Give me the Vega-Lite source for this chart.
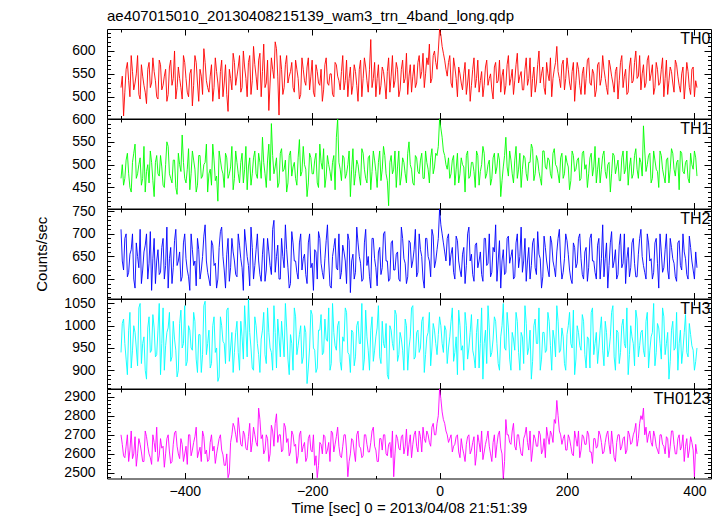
{
"$schema":"https://vega.github.io/schema/vega-lite/v6.json",
"autosize":{"type":"pad"},
"padding":{"left":33,"top":9,"right":9,"bottom":0},
"background":"white",
"title":{"text":"ae407015010_20130408215139_wam3_trn_4band_long.qdp","anchor":"start","frame":"group","fontSize":15,"fontWeight":"normal","font":"Liberation Sans","color":"black","baseline":"alphabetic","offset":-11},
"config":{"font":"Liberation Sans","view":{"stroke":"black","strokeWidth":1},
"axis":{"domain":false,"grid":false,"labelFontSize":14,"labelColor":"black","tickColor":"black","tickWidth":1,"labelOverlap":false,"labelFlush":false,"titleFontWeight":"normal","titleFontSize":15,"titleColor":"black","labelFont":"Liberation Sans","titleFont":"Liberation Sans"}},
"spacing":0,
"bounds":"flush",
"resolve":{"scale":{"x":"independent","y":"independent"}},
"data":{"values":[
{"t":-500,"th0":520,"th1":470,"th2":710,"th3":940,"sum":2700},
{"t":-496,"th0":458,"th1":455,"th2":620,"th3":1015,"sum":2590},
{"t":-492,"th0":560,"th1":510,"th2":700,"th3":925,"sum":2640},
{"t":-488,"th0":535,"th1":480,"th2":615,"th3":990,"sum":2560},
{"t":-484,"th0":590,"th1":440,"th2":665,"th3":905,"sum":2720},
{"t":-480,"th0":515,"th1":525,"th2":600,"th3":1000,"sum":2600},
{"t":-476,"th0":550,"th1":470,"th2":680,"th3":950,"sum":2535},
{"t":-472,"th0":505,"th1":500,"th2":625,"th3":1040,"sum":2680},
{"t":-468,"th0":570,"th1":455,"th2":590,"th3":915,"sum":2610},
{"t":-464,"th0":525,"th1":540,"th2":660,"th3":975,"sum":2560},
{"t":-460,"th0":485,"th1":485,"th2":700,"th3":880,"sum":2690},
{"t":-456,"th0":575,"th1":460,"th2":635,"th3":1020,"sum":2600},
{"t":-452,"th0":530,"th1":505,"th2":575,"th3":945,"sum":2545},
{"t":-448,"th0":555,"th1":430,"th2":690,"th3":995,"sum":2660},
{"t":-444,"th0":500,"th1":520,"th2":640,"th3":935,"sum":2740},
{"t":-440,"th0":580,"th1":475,"th2":610,"th3":1050,"sum":2590},
{"t":-436,"th0":515,"th1":495,"th2":670,"th3":960,"sum":2630},
{"t":-432,"th0":545,"th1":450,"th2":600,"th3":900,"sum":2530},
{"t":-428,"th0":490,"th1":550,"th2":715,"th3":985,"sum":2680},
{"t":-424,"th0":565,"th1":480,"th2":645,"th3":1030,"sum":2610},
{"t":-420,"th0":525,"th1":460,"th2":590,"th3":930,"sum":2560},
{"t":-416,"th0":600,"th1":510,"th2":685,"th3":970,"sum":2710},
{"t":-412,"th0":520,"th1":435,"th2":630,"th3":885,"sum":2640},
{"t":-408,"th0":540,"th1":500,"th2":660,"th3":1005,"sum":2575},
{"t":-404,"th0":495,"th1":565,"th2":605,"th3":950,"sum":2650},
{"t":-400,"th0":575,"th1":470,"th2":700,"th3":1045,"sum":2600},
{"t":-396,"th0":510,"th1":490,"th2":620,"th3":920,"sum":2545},
{"t":-392,"th0":550,"th1":445,"th2":575,"th3":990,"sum":2700},
{"t":-388,"th0":480,"th1":530,"th2":665,"th3":945,"sum":2620},
{"t":-384,"th0":590,"th1":490,"th2":640,"th3":1010,"sum":2690},
{"t":-380,"th0":530,"th1":455,"th2":690,"th3":895,"sum":2580},
{"t":-376,"th0":560,"th1":520,"th2":600,"th3":980,"sum":2635},
{"t":-372,"th0":505,"th1":475,"th2":650,"th3":935,"sum":2720},
{"t":-368,"th0":575,"th1":505,"th2":720,"th3":1055,"sum":2600},
{"t":-364,"th0":520,"th1":440,"th2":615,"th3":960,"sum":2560},
{"t":-360,"th0":545,"th1":490,"th2":585,"th3":905,"sum":2660},
{"t":-356,"th0":490,"th1":545,"th2":675,"th3":1000,"sum":2615},
{"t":-352,"th0":585,"th1":465,"th2":635,"th3":940,"sum":2550},
{"t":-348,"th0":530,"th1":420,"th2":600,"th3":875,"sum":2640},
{"t":-344,"th0":555,"th1":510,"th2":705,"th3":1020,"sum":2700},
{"t":-340,"th0":500,"th1":480,"th2":650,"th3":965,"sum":2595},
{"t":-336,"th0":570,"th1":525,"th2":580,"th3":915,"sum":2540},
{"t":-332,"th0":468,"th1":470,"th2":690,"th3":1040,"sum":2475},
{"t":-328,"th0":540,"th1":495,"th2":625,"th3":950,"sum":2660},
{"t":-324,"th0":595,"th1":445,"th2":660,"th3":895,"sum":2760},
{"t":-320,"th0":525,"th1":530,"th2":610,"th3":985,"sum":2700},
{"t":-316,"th0":565,"th1":480,"th2":700,"th3":940,"sum":2790},
{"t":-312,"th0":510,"th1":505,"th2":645,"th3":1010,"sum":2650},
{"t":-308,"th0":600,"th1":460,"th2":575,"th3":925,"sum":2720},
{"t":-304,"th0":540,"th1":540,"th2":680,"th3":990,"sum":2630},
{"t":-300,"th0":575,"th1":495,"th2":630,"th3":1060,"sum":2690},
{"t":-296,"th0":505,"th1":455,"th2":715,"th3":950,"sum":2610},
{"t":-292,"th0":610,"th1":515,"th2":600,"th3":900,"sum":2740},
{"t":-288,"th0":545,"th1":480,"th2":665,"th3":1000,"sum":2660},
{"t":-284,"th0":580,"th1":525,"th2":640,"th3":935,"sum":2840},
{"t":-280,"th0":500,"th1":470,"th2":595,"th3":970,"sum":2680},
{"t":-276,"th0":615,"th1":505,"th2":690,"th3":1030,"sum":2600},
{"t":-272,"th0":530,"th1":450,"th2":620,"th3":915,"sum":2700},
{"t":-268,"th0":470,"th1":545,"th2":660,"th3":985,"sum":2560},
{"t":-264,"th0":585,"th1":590,"th2":610,"th3":940,"sum":2750},
{"t":-260,"th0":540,"th1":480,"th2":730,"th3":1045,"sum":2640},
{"t":-256,"th0":605,"th1":515,"th2":650,"th3":905,"sum":2810},
{"t":-252,"th0":460,"th1":460,"th2":600,"th3":975,"sum":2700},
{"t":-248,"th0":560,"th1":535,"th2":690,"th3":1010,"sum":2610},
{"t":-244,"th0":520,"th1":490,"th2":625,"th3":930,"sum":2760},
{"t":-240,"th0":590,"th1":440,"th2":665,"th3":995,"sum":2660},
{"t":-236,"th0":545,"th1":520,"th2":580,"th3":890,"sum":2590},
{"t":-232,"th0":575,"th1":475,"th2":705,"th3":960,"sum":2720},
{"t":-228,"th0":510,"th1":505,"th2":640,"th3":1040,"sum":2640},
{"t":-224,"th0":560,"th1":455,"th2":615,"th3":935,"sum":2550},
{"t":-220,"th0":495,"th1":555,"th2":680,"th3":980,"sum":2700},
{"t":-216,"th0":585,"th1":485,"th2":620,"th3":915,"sum":2610},
{"t":-212,"th0":535,"th1":500,"th2":655,"th3":1000,"sum":2660},
{"t":-208,"th0":565,"th1":430,"th2":590,"th3":870,"sum":2580},
{"t":-204,"th0":515,"th1":525,"th2":700,"th3":950,"sum":2700},
{"t":-200,"th0":580,"th1":480,"th2":635,"th3":1025,"sum":2610},
{"t":-196,"th0":500,"th1":510,"th2":665,"th3":945,"sum":2540},
{"t":-192,"th0":555,"th1":460,"th2":600,"th3":905,"sum":2475},
{"t":-188,"th0":525,"th1":545,"th2":690,"th3":990,"sum":2660},
{"t":-184,"th0":490,"th1":490,"th2":615,"th3":935,"sum":2600},
{"t":-180,"th0":570,"th1":450,"th2":645,"th3":1015,"sum":2690},
{"t":-176,"th0":530,"th1":520,"th2":720,"th3":965,"sum":2620},
{"t":-172,"th0":550,"th1":485,"th2":585,"th3":900,"sum":2560},
{"t":-168,"th0":505,"th1":505,"th2":650,"th3":1050,"sum":2710},
{"t":-164,"th0":575,"th1":445,"th2":690,"th3":955,"sum":2650},
{"t":-160,"th0":545,"th1":600,"th2":620,"th3":1000,"sum":2740},
{"t":-156,"th0":515,"th1":490,"th2":600,"th3":920,"sum":2590},
{"t":-152,"th0":590,"th1":520,"th2":675,"th3":975,"sum":2640},
{"t":-148,"th0":535,"th1":470,"th2":640,"th3":1040,"sum":2700},
{"t":-144,"th0":500,"th1":500,"th2":700,"th3":940,"sum":2480},
{"t":-140,"th0":565,"th1":430,"th2":570,"th3":895,"sum":2600},
{"t":-136,"th0":525,"th1":535,"th2":655,"th3":985,"sum":2670},
{"t":-132,"th0":555,"th1":480,"th2":615,"th3":930,"sum":2560},
{"t":-128,"th0":490,"th1":500,"th2":680,"th3":1010,"sum":2720},
{"t":-124,"th0":580,"th1":455,"th2":635,"th3":960,"sum":2630},
{"t":-120,"th0":540,"th1":525,"th2":600,"th3":900,"sum":2590},
{"t":-116,"th0":565,"th1":470,"th2":710,"th3":1035,"sum":2700},
{"t":-112,"th0":510,"th1":515,"th2":650,"th3":945,"sum":2610},
{"t":-108,"th0":625,"th1":445,"th2":580,"th3":990,"sum":2660},
{"t":-104,"th0":540,"th1":530,"th2":690,"th3":920,"sum":2740},
{"t":-100,"th0":500,"th1":485,"th2":625,"th3":975,"sum":2620},
{"t":-96,"th0":570,"th1":505,"th2":660,"th3":1045,"sum":2560},
{"t":-92,"th0":525,"th1":465,"th2":610,"th3":915,"sum":2680},
{"t":-88,"th0":555,"th1":540,"th2":700,"th3":960,"sum":2700},
{"t":-84,"th0":495,"th1":480,"th2":640,"th3":1005,"sum":2600},
{"t":-80,"th0":585,"th1":410,"th2":595,"th3":880,"sum":2650},
{"t":-76,"th0":545,"th1":520,"th2":680,"th3":990,"sum":2580},
{"t":-72,"th0":520,"th1":490,"th2":620,"th3":945,"sum":2480},
{"t":-68,"th0":575,"th1":450,"th2":655,"th3":1025,"sum":2700},
{"t":-64,"th0":500,"th1":530,"th2":600,"th3":935,"sum":2630},
{"t":-60,"th0":560,"th1":475,"th2":715,"th3":970,"sum":2690},
{"t":-56,"th0":530,"th1":505,"th2":645,"th3":900,"sum":2600},
{"t":-52,"th0":595,"th1":460,"th2":590,"th3":1000,"sum":2730},
{"t":-48,"th0":545,"th1":550,"th2":685,"th3":950,"sum":2650},
{"t":-44,"th0":510,"th1":490,"th2":625,"th3":1040,"sum":2580},
{"t":-40,"th0":570,"th1":455,"th2":665,"th3":925,"sum":2700},
{"t":-36,"th0":530,"th1":515,"th2":605,"th3":985,"sum":2640},
{"t":-32,"th0":590,"th1":480,"th2":700,"th3":940,"sum":2720},
{"t":-28,"th0":555,"th1":525,"th2":650,"th3":1010,"sum":2610},
{"t":-24,"th0":520,"th1":470,"th2":580,"th3":895,"sum":2680},
{"t":-20,"th0":585,"th1":505,"th2":690,"th3":975,"sum":2720},
{"t":-16,"th0":615,"th1":460,"th2":640,"th3":1030,"sum":2660},
{"t":-12,"th0":540,"th1":535,"th2":710,"th3":950,"sum":2740},
{"t":-8,"th0":600,"th1":495,"th2":625,"th3":990,"sum":2700},
{"t":-4,"th0":560,"th1":520,"th2":665,"th3":935,"sum":2760},
{"t":0,"th0":648,"th1":600,"th2":755,"th3":1020,"sum":2940},
{"t":4,"th0":610,"th1":560,"th2":700,"th3":960,"sum":2820},
{"t":8,"th0":580,"th1":520,"th2":660,"th3":1000,"sum":2760},
{"t":12,"th0":545,"th1":490,"th2":690,"th3":915,"sum":2700},
{"t":16,"th0":590,"th1":470,"th2":630,"th3":975,"sum":2680},
{"t":20,"th0":520,"th1":510,"th2":670,"th3":1040,"sum":2610},
{"t":24,"th0":565,"th1":455,"th2":600,"th3":940,"sum":2650},
{"t":28,"th0":500,"th1":525,"th2":685,"th3":890,"sum":2700},
{"t":32,"th0":550,"th1":480,"th2":620,"th3":1000,"sum":2580},
{"t":36,"th0":515,"th1":500,"th2":655,"th3":955,"sum":2630},
{"t":40,"th0":575,"th1":440,"th2":590,"th3":1030,"sum":2560},
{"t":44,"th0":530,"th1":530,"th2":700,"th3":925,"sum":2690},
{"t":48,"th0":490,"th1":475,"th2":640,"th3":985,"sum":2600},
{"t":52,"th0":560,"th1":505,"th2":610,"th3":945,"sum":2660},
{"t":56,"th0":520,"th1":450,"th2":675,"th3":905,"sum":2540},
{"t":60,"th0":580,"th1":520,"th2":625,"th3":1015,"sum":2700},
{"t":64,"th0":535,"th1":485,"th2":660,"th3":960,"sum":2610},
{"t":68,"th0":500,"th1":540,"th2":595,"th3":880,"sum":2570},
{"t":72,"th0":565,"th1":470,"th2":690,"th3":990,"sum":2650},
{"t":76,"th0":525,"th1":500,"th2":635,"th3":1045,"sum":2720},
{"t":80,"th0":550,"th1":455,"th2":605,"th3":930,"sum":2600},
{"t":84,"th0":495,"th1":515,"th2":670,"th3":970,"sum":2660},
{"t":88,"th0":575,"th1":480,"th2":720,"th3":1010,"sum":2580},
{"t":92,"th0":535,"th1":525,"th2":640,"th3":915,"sum":2700},
{"t":96,"th0":510,"th1":430,"th2":580,"th3":975,"sum":2630},
{"t":100,"th0":560,"th1":495,"th2":665,"th3":1050,"sum":2470},
{"t":104,"th0":525,"th1":560,"th2":615,"th3":945,"sum":2780},
{"t":108,"th0":590,"th1":475,"th2":695,"th3":995,"sum":2700},
{"t":112,"th0":540,"th1":510,"th2":650,"th3":900,"sum":2650},
{"t":116,"th0":505,"th1":460,"th2":600,"th3":970,"sum":2760},
{"t":120,"th0":570,"th1":540,"th2":680,"th3":1030,"sum":2620},
{"t":124,"th0":530,"th1":490,"th2":625,"th3":940,"sum":2700},
{"t":128,"th0":555,"th1":450,"th2":715,"th3":985,"sum":2600},
{"t":132,"th0":515,"th1":520,"th2":640,"th3":915,"sum":2680},
{"t":136,"th0":585,"th1":480,"th2":595,"th3":1005,"sum":2740},
{"t":140,"th0":540,"th1":505,"th2":670,"th3":950,"sum":2620},
{"t":144,"th0":500,"th1":545,"th2":630,"th3":880,"sum":2560},
{"t":148,"th0":565,"th1":465,"th2":690,"th3":1000,"sum":2700},
{"t":152,"th0":530,"th1":520,"th2":610,"th3":960,"sum":2640},
{"t":156,"th0":600,"th1":485,"th2":655,"th3":1040,"sum":2720},
{"t":160,"th0":550,"th1":455,"th2":580,"th3":925,"sum":2600},
{"t":164,"th0":520,"th1":530,"th2":695,"th3":985,"sum":2680},
{"t":168,"th0":575,"th1":490,"th2":640,"th3":945,"sum":2740},
{"t":172,"th0":535,"th1":510,"th2":605,"th3":1010,"sum":2650},
{"t":176,"th0":500,"th1":470,"th2":680,"th3":900,"sum":2700},
{"t":180,"th0":560,"th1":535,"th2":625,"th3":970,"sum":2780},
{"t":184,"th0":610,"th1":495,"th2":660,"th3":1045,"sum":2880},
{"t":188,"th0":540,"th1":460,"th2":710,"th3":940,"sum":2720},
{"t":192,"th0":570,"th1":525,"th2":600,"th3":995,"sum":2650},
{"t":196,"th0":515,"th1":480,"th2":645,"th3":915,"sum":2700},
{"t":200,"th0":585,"th1":505,"th2":685,"th3":980,"sum":2620},
{"t":204,"th0":530,"th1":445,"th2":620,"th3":1030,"sum":2680},
{"t":208,"th0":555,"th1":530,"th2":590,"th3":950,"sum":2600},
{"t":212,"th0":490,"th1":485,"th2":670,"th3":890,"sum":2720},
{"t":216,"th0":575,"th1":510,"th2":635,"th3":1000,"sum":2640},
{"t":220,"th0":525,"th1":465,"th2":700,"th3":955,"sum":2580},
{"t":224,"th0":550,"th1":525,"th2":610,"th3":1025,"sum":2700},
{"t":228,"th0":505,"th1":490,"th2":660,"th3":935,"sum":2650},
{"t":232,"th0":580,"th1":450,"th2":595,"th3":975,"sum":2720},
{"t":236,"th0":530,"th1":515,"th2":690,"th3":905,"sum":2610},
{"t":240,"th0":560,"th1":475,"th2":640,"th3":1040,"sum":2550},
{"t":244,"th0":500,"th1":540,"th2":615,"th3":960,"sum":2680},
{"t":248,"th0":570,"th1":490,"th2":675,"th3":915,"sum":2640},
{"t":252,"th0":525,"th1":460,"th2":600,"th3":990,"sum":2700},
{"t":256,"th0":590,"th1":520,"th2":720,"th3":945,"sum":2600},
{"t":260,"th0":540,"th1":485,"th2":645,"th3":1010,"sum":2660},
{"t":264,"th0":505,"th1":500,"th2":580,"th3":930,"sum":2720},
{"t":268,"th0":565,"th1":440,"th2":680,"th3":975,"sum":2600},
{"t":272,"th0":530,"th1":525,"th2":625,"th3":1045,"sum":2650},
{"t":276,"th0":555,"th1":480,"th2":665,"th3":900,"sum":2560},
{"t":280,"th0":495,"th1":510,"th2":610,"th3":985,"sum":2700},
{"t":284,"th0":575,"th1":465,"th2":700,"th3":940,"sum":2620},
{"t":288,"th0":520,"th1":530,"th2":635,"th3":1015,"sum":2680},
{"t":292,"th0":560,"th1":490,"th2":590,"th3":950,"sum":2600},
{"t":296,"th0":510,"th1":455,"th2":670,"th3":890,"sum":2720},
{"t":300,"th0":585,"th1":515,"th2":625,"th3":1000,"sum":2650},
{"t":304,"th0":535,"th1":480,"th2":690,"th3":960,"sum":2700},
{"t":308,"th0":600,"th1":535,"th2":605,"th3":1035,"sum":2760},
{"t":312,"th0":545,"th1":470,"th2":655,"th3":930,"sum":2680},
{"t":316,"th0":515,"th1":505,"th2":710,"th3":985,"sum":2800},
{"t":320,"th0":570,"th1":585,"th2":630,"th3":945,"sum":2840},
{"t":324,"th0":530,"th1":485,"th2":600,"th3":1010,"sum":2740},
{"t":328,"th0":590,"th1":520,"th2":680,"th3":905,"sum":2700},
{"t":332,"th0":550,"th1":460,"th2":645,"th3":975,"sum":2660},
{"t":336,"th0":505,"th1":530,"th2":615,"th3":1050,"sum":2720},
{"t":340,"th0":575,"th1":490,"th2":690,"th3":940,"sum":2640},
{"t":344,"th0":525,"th1":450,"th2":580,"th3":995,"sum":2600},
{"t":348,"th0":560,"th1":520,"th2":660,"th3":925,"sum":2700},
{"t":352,"th0":500,"th1":475,"th2":625,"th3":1020,"sum":2640},
{"t":356,"th0":580,"th1":510,"th2":700,"th3":960,"sum":2690},
{"t":360,"th0":535,"th1":460,"th2":600,"th3":880,"sum":2580},
{"t":364,"th0":555,"th1":535,"th2":670,"th3":990,"sum":2720},
{"t":368,"th0":510,"th1":490,"th2":635,"th3":945,"sum":2650},
{"t":372,"th0":570,"th1":505,"th2":595,"th3":1030,"sum":2600},
{"t":376,"th0":525,"th1":445,"th2":685,"th3":960,"sum":2700},
{"t":380,"th0":550,"th1":525,"th2":620,"th3":915,"sum":2640},
{"t":384,"th0":495,"th1":480,"th2":660,"th3":985,"sum":2560},
{"t":388,"th0":575,"th1":510,"th2":610,"th3":940,"sum":2680},
{"t":392,"th0":520,"th1":460,"th2":695,"th3":1005,"sum":2620},
{"t":396,"th0":560,"th1":500,"th2":640,"th3":955,"sum":2660},
{"t":400,"th0":500,"th1":530,"th2":600,"th3":900,"sum":2480},
{"t":404,"th0":520,"th1":475,"th2":625,"th3":950,"sum":2600},
{"t":-498,"th0":545,"th1":500,"th2":640,"th3":1005,"sum":2650},
{"t":-494,"th0":510,"th1":470,"th2":690,"th3":960,"sum":2580},
{"t":-490,"th0":575,"th1":525,"th2":605,"th3":890,"sum":2700},
{"t":-486,"th0":500,"th1":450,"th2":655,"th3":1030,"sum":2620},
{"t":-482,"th0":555,"th1":505,"th2":700,"th3":945,"sum":2575},
{"t":-478,"th0":530,"th1":545,"th2":580,"th3":985,"sum":2690},
{"t":-474,"th0":590,"th1":480,"th2":650,"th3":910,"sum":2600},
{"t":-470,"th0":495,"th1":515,"th2":710,"th3":1050,"sum":2650},
{"t":-466,"th0":545,"th1":470,"th2":620,"th3":960,"sum":2560},
{"t":-462,"th0":510,"th1":440,"th2":675,"th3":900,"sum":2720},
{"t":-458,"th0":560,"th1":500,"th2":600,"th3":995,"sum":2640},
{"t":-454,"th0":520,"th1":530,"th2":705,"th3":940,"sum":2580},
{"t":-450,"th0":585,"th1":465,"th2":645,"th3":1025,"sum":2700},
{"t":-446,"th0":535,"th1":505,"th2":590,"th3":930,"sum":2610},
{"t":-442,"th0":495,"th1":480,"th2":665,"th3":990,"sum":2560},
{"t":-438,"th0":570,"th1":520,"th2":615,"th3":890,"sum":2680},
{"t":-434,"th0":525,"th1":455,"th2":690,"th3":1040,"sum":2640},
{"t":-430,"th0":560,"th1":500,"th2":630,"th3":955,"sum":2600},
{"t":-426,"th0":505,"th1":540,"th2":580,"th3":995,"sum":2700},
{"t":-422,"th0":580,"th1":470,"th2":670,"th3":920,"sum":2550},
{"t":-418,"th0":540,"th1":510,"th2":625,"th3":1010,"sum":2650},
{"t":-414,"th0":495,"th1":450,"th2":710,"th3":945,"sum":2720},
{"t":-410,"th0":565,"th1":525,"th2":640,"th3":900,"sum":2600},
{"t":-406,"th0":520,"th1":485,"th2":595,"th3":1035,"sum":2680},
{"t":-402,"th0":590,"th1":505,"th2":680,"th3":960,"sum":2560},
{"t":-398,"th0":540,"th1":460,"th2":645,"th3":910,"sum":2640},
{"t":-394,"th0":500,"th1":535,"th2":605,"th3":1000,"sum":2700},
{"t":-390,"th0":560,"th1":480,"th2":700,"th3":950,"sum":2590},
{"t":-386,"th0":525,"th1":510,"th2":630,"th3":1030,"sum":2660},
{"t":-382,"th0":575,"th1":440,"th2":585,"th3":925,"sum":2740},
{"t":-378,"th0":490,"th1":520,"th2":665,"th3":980,"sum":2610},
{"t":-374,"th0":545,"th1":470,"th2":620,"th3":895,"sum":2560},
{"t":-370,"th0":605,"th1":500,"th2":695,"th3":1045,"sum":2690},
{"t":-366,"th0":535,"th1":545,"th2":640,"th3":935,"sum":2620},
{"t":-362,"th0":510,"th1":480,"th2":600,"th3":990,"sum":2570},
{"t":-358,"th0":570,"th1":455,"th2":685,"th3":915,"sum":2700},
{"t":-354,"th0":520,"th1":510,"th2":630,"th3":1020,"sum":2640},
{"t":-350,"th0":555,"th1":475,"th2":580,"th3":950,"sum":2600},
{"t":-346,"th0":495,"th1":530,"th2":670,"th3":885,"sum":2680},
{"t":-342,"th0":580,"th1":490,"th2":715,"th3":1000,"sum":2620},
{"t":-338,"th0":530,"th1":450,"th2":620,"th3":960,"sum":2540},
{"t":-334,"th0":505,"th1":515,"th2":655,"th3":1035,"sum":2600},
{"t":-330,"th0":560,"th1":480,"th2":595,"th3":920,"sum":2500},
{"t":-326,"th0":515,"th1":540,"th2":690,"th3":985,"sum":2700},
{"t":-322,"th0":575,"th1":470,"th2":640,"th3":940,"sum":2740},
{"t":-318,"th0":545,"th1":505,"th2":605,"th3":1010,"sum":2660},
{"t":-314,"th0":590,"th1":460,"th2":675,"th3":900,"sum":2720},
{"t":-310,"th0":520,"th1":525,"th2":625,"th3":975,"sum":2640},
{"t":-306,"th0":565,"th1":490,"th2":710,"th3":1045,"sum":2700},
{"t":-302,"th0":500,"th1":445,"th2":650,"th3":930,"sum":2620},
{"t":-298,"th0":590,"th1":515,"th2":585,"th3":985,"sum":2760},
{"t":-294,"th0":535,"th1":480,"th2":670,"th3":905,"sum":2660},
{"t":-290,"th0":570,"th1":530,"th2":630,"th3":1020,"sum":2700},
{"t":-286,"th0":515,"th1":470,"th2":700,"th3":960,"sum":2640},
{"t":-282,"th0":595,"th1":505,"th2":610,"th3":895,"sum":2780},
{"t":-278,"th0":555,"th1":560,"th2":655,"th3":990,"sum":2700},
{"t":-274,"th0":520,"th1":480,"th2":595,"th3":935,"sum":2620},
{"t":-270,"th0":580,"th1":510,"th2":690,"th3":1040,"sum":2680},
{"t":-266,"th0":530,"th1":465,"th2":630,"th3":950,"sum":2600},
{"t":-262,"th0":560,"th1":520,"th2":710,"th3":900,"sum":2720},
{"t":-258,"th0":620,"th1":495,"th2":615,"th3":985,"sum":2760},
{"t":-254,"th0":545,"th1":450,"th2":675,"th3":1015,"sum":2660},
{"t":-250,"th0":590,"th1":525,"th2":600,"th3":930,"sum":2700},
{"t":-246,"th0":505,"th1":485,"th2":650,"th3":970,"sum":2620},
{"t":-242,"th0":570,"th1":510,"th2":720,"th3":1050,"sum":2740},
{"t":-238,"th0":530,"th1":460,"th2":625,"th3":925,"sum":2680},
{"t":-234,"th0":555,"th1":530,"th2":590,"th3":980,"sum":2610},
{"t":-230,"th0":520,"th1":495,"th2":680,"th3":900,"sum":2700},
{"t":-226,"th0":580,"th1":470,"th2":640,"th3":1020,"sum":2650},
{"t":-222,"th0":540,"th1":515,"th2":600,"th3":955,"sum":2590},
{"t":-218,"th0":505,"th1":475,"th2":700,"th3":1000,"sum":2720},
{"t":-214,"th0":560,"th1":540,"th2":645,"th3":930,"sum":2640},
{"t":-210,"th0":525,"th1":490,"th2":610,"th3":985,"sum":2560},
{"t":-206,"th0":585,"th1":460,"th2":680,"th3":905,"sum":2680},
{"t":-202,"th0":545,"th1":515,"th2":625,"th3":1035,"sum":2620},
{"t":-198,"th0":510,"th1":480,"th2":575,"th3":950,"sum":2700},
{"t":-194,"th0":570,"th1":525,"th2":660,"th3":895,"sum":2590},
{"t":-190,"th0":530,"th1":450,"th2":705,"th3":990,"sum":2540},
{"t":-186,"th0":560,"th1":505,"th2":635,"th3":1025,"sum":2650},
{"t":-182,"th0":515,"th1":535,"th2":600,"th3":940,"sum":2700},
{"t":-178,"th0":585,"th1":475,"th2":685,"th3":970,"sum":2600},
{"t":-174,"th0":525,"th1":500,"th2":640,"th3":1040,"sum":2660},
{"t":-170,"th0":550,"th1":465,"th2":580,"th3":915,"sum":2720},
{"t":-166,"th0":500,"th1":520,"th2":670,"th3":985,"sum":2610},
{"t":-162,"th0":570,"th1":560,"th2":625,"th3":945,"sum":2690},
{"t":-158,"th0":535,"th1":505,"th2":700,"th3":1010,"sum":2640},
{"t":-154,"th0":555,"th1":465,"th2":615,"th3":900,"sum":2580},
{"t":-150,"th0":515,"th1":515,"th2":660,"th3":965,"sum":2700},
{"t":-146,"th0":580,"th1":480,"th2":590,"th3":1030,"sum":2620},
{"t":-142,"th0":540,"th1":530,"th2":685,"th3":935,"sum":2560},
{"t":-138,"th0":505,"th1":490,"th2":640,"th3":990,"sum":2680},
{"t":-134,"th0":570,"th1":455,"th2":600,"th3":910,"sum":2610},
{"t":-130,"th0":525,"th1":510,"th2":715,"th3":1000,"sum":2700},
{"t":-126,"th0":560,"th1":475,"th2":650,"th3":960,"sum":2640},
{"t":-122,"th0":500,"th1":535,"th2":595,"th3":1050,"sum":2580},
{"t":-118,"th0":585,"th1":490,"th2":680,"th3":925,"sum":2700},
{"t":-114,"th0":535,"th1":460,"th2":630,"th3":975,"sum":2650},
{"t":-110,"th0":560,"th1":520,"th2":605,"th3":900,"sum":2610},
{"t":-106,"th0":520,"th1":485,"th2":690,"th3":1020,"sum":2720},
{"t":-102,"th0":575,"th1":510,"th2":645,"th3":945,"sum":2640},
{"t":-98,"th0":540,"th1":450,"th2":585,"th3":995,"sum":2560},
{"t":-94,"th0":505,"th1":530,"th2":670,"th3":930,"sum":2680},
{"t":-90,"th0":565,"th1":490,"th2":625,"th3":1010,"sum":2620},
{"t":-86,"th0":530,"th1":520,"th2":705,"th3":950,"sum":2700},
{"t":-82,"th0":555,"th1":465,"th2":640,"th3":890,"sum":2590},
{"t":-78,"th0":510,"th1":505,"th2":600,"th3":1000,"sum":2660},
{"t":-74,"th0":590,"th1":480,"th2":685,"th3":960,"sum":2720},
{"t":-70,"th0":535,"th1":530,"th2":620,"th3":1035,"sum":2600},
{"t":-66,"th0":560,"th1":495,"th2":660,"th3":920,"sum":2680},
{"t":-62,"th0":515,"th1":455,"th2":595,"th3":985,"sum":2620},
{"t":-58,"th0":580,"th1":515,"th2":690,"th3":945,"sum":2700},
{"t":-54,"th0":540,"th1":480,"th2":635,"th3":1015,"sum":2640},
{"t":-50,"th0":505,"th1":525,"th2":605,"th3":900,"sum":2590},
{"t":-46,"th0":570,"th1":500,"th2":680,"th3":975,"sum":2700},
{"t":-42,"th0":545,"th1":460,"th2":640,"th3":1045,"sum":2650},
{"t":-38,"th0":520,"th1":520,"th2":710,"th3":930,"sum":2720},
{"t":-34,"th0":575,"th1":485,"th2":615,"th3":990,"sum":2610},
{"t":-30,"th0":540,"th1":510,"th2":665,"th3":950,"sum":2690},
{"t":-26,"th0":595,"th1":470,"th2":600,"th3":1020,"sum":2740},
{"t":-22,"th0":550,"th1":530,"th2":690,"th3":935,"sum":2660},
{"t":-18,"th0":570,"th1":490,"th2":650,"th3":985,"sum":2700},
{"t":-14,"th0":530,"th1":515,"th2":605,"th3":910,"sum":2640},
{"t":-10,"th0":590,"th1":480,"th2":695,"th3":1005,"sum":2760},
{"t":-6,"th0":575,"th1":525,"th2":640,"th3":960,"sum":2700},
{"t":-2,"th0":600,"th1":540,"th2":690,"th3":980,"sum":2800},
{"t":2,"th0":635,"th1":580,"th2":720,"th3":1000,"sum":2890},
{"t":6,"th0":595,"th1":530,"th2":680,"th3":940,"sum":2780},
{"t":10,"th0":560,"th1":500,"th2":640,"th3":990,"sum":2720},
{"t":14,"th0":575,"th1":515,"th2":700,"th3":950,"sum":2660},
{"t":18,"th0":530,"th1":480,"th2":655,"th3":1010,"sum":2700},
{"t":22,"th0":585,"th1":520,"th2":615,"th3":920,"sum":2640},
{"t":26,"th0":540,"th1":490,"th2":695,"th3":975,"sum":2690},
{"t":30,"th0":565,"th1":460,"th2":640,"th3":1035,"sum":2610},
{"t":34,"th0":530,"th1":515,"th2":605,"th3":945,"sum":2680},
{"t":38,"th0":550,"th1":495,"th2":670,"th3":900,"sum":2600},
{"t":42,"th0":505,"th1":520,"th2":630,"th3":1000,"sum":2650},
{"t":46,"th0":560,"th1":470,"th2":715,"th3":950,"sum":2700},
{"t":50,"th0":525,"th1":505,"th2":655,"th3":1025,"sum":2620},
{"t":54,"th0":585,"th1":485,"th2":595,"th3":930,"sum":2690},
{"t":58,"th0":540,"th1":530,"th2":680,"th3":985,"sum":2600},
{"t":62,"th0":510,"th1":455,"th2":640,"th3":905,"sum":2660},
{"t":66,"th0":555,"th1":500,"th2":610,"th3":1040,"sum":2720},
{"t":70,"th0":525,"th1":525,"th2":690,"th3":960,"sum":2610},
{"t":74,"th0":580,"th1":480,"th2":630,"th3":915,"sum":2680},
{"t":78,"th0":540,"th1":510,"th2":700,"th3":995,"sum":2640},
{"t":82,"th0":515,"th1":470,"th2":615,"th3":940,"sum":2560},
{"t":86,"th0":565,"th1":525,"th2":660,"th3":1020,"sum":2700},
{"t":90,"th0":530,"th1":495,"th2":595,"th3":960,"sum":2650},
{"t":94,"th0":580,"th1":510,"th2":685,"th3":900,"sum":2720},
{"t":98,"th0":545,"th1":465,"th2":640,"th3":1000,"sum":2600},
{"t":102,"th0":505,"th1":520,"th2":610,"th3":950,"sum":2560},
{"t":106,"th0":570,"th1":495,"th2":690,"th3":1030,"sum":2700},
{"t":110,"th0":525,"th1":530,"th2":635,"th3":925,"sum":2660},
{"t":114,"th0":560,"th1":480,"th2":665,"th3":985,"sum":2720},
{"t":118,"th0":535,"th1":510,"th2":605,"th3":945,"sum":2640},
{"t":122,"th0":595,"th1":470,"th2":700,"th3":1010,"sum":2700},
{"t":126,"th0":545,"th1":525,"th2":650,"th3":900,"sum":2640},
{"t":130,"th0":515,"th1":490,"th2":615,"th3":975,"sum":2590},
{"t":134,"th0":560,"th1":515,"th2":690,"th3":1045,"sum":2700},
{"t":138,"th0":525,"th1":465,"th2":640,"th3":935,"sum":2660},
{"t":142,"th0":585,"th1":505,"th2":600,"th3":990,"sum":2720},
{"t":146,"th0":540,"th1":535,"th2":680,"th3":920,"sum":2620},
{"t":150,"th0":510,"th1":480,"th2":625,"th3":1015,"sum":2680},
{"t":154,"th0":570,"th1":510,"th2":705,"th3":960,"sum":2640},
{"t":158,"th0":530,"th1":470,"th2":645,"th3":900,"sum":2700},
{"t":162,"th0":565,"th1":530,"th2":605,"th3":985,"sum":2620},
{"t":166,"th0":505,"th1":495,"th2":670,"th3":940,"sum":2580},
{"t":170,"th0":550,"th1":515,"th2":620,"th3":1030,"sum":2690},
{"t":174,"th0":585,"th1":480,"th2":695,"th3":955,"sum":2720},
{"t":178,"th0":540,"th1":525,"th2":640,"th3":990,"sum":2660},
{"t":182,"th0":575,"th1":500,"th2":605,"th3":930,"sum":2760},
{"t":186,"th0":555,"th1":480,"th2":690,"th3":1010,"sum":2800},
{"t":190,"th0":520,"th1":515,"th2":640,"th3":945,"sum":2700},
{"t":194,"th0":580,"th1":470,"th2":615,"th3":975,"sum":2680},
{"t":198,"th0":540,"th1":520,"th2":700,"th3":900,"sum":2620},
{"t":202,"th0":560,"th1":495,"th2":655,"th3":1000,"sum":2700},
{"t":206,"th0":515,"th1":465,"th2":600,"th3":960,"sum":2640},
{"t":210,"th0":575,"th1":520,"th2":680,"th3":1035,"sum":2590},
{"t":214,"th0":535,"th1":490,"th2":625,"th3":925,"sum":2680},
{"t":218,"th0":560,"th1":515,"th2":690,"th3":985,"sum":2720},
{"t":222,"th0":505,"th1":470,"th2":645,"th3":945,"sum":2620},
{"t":226,"th0":565,"th1":530,"th2":600,"th3":1010,"sum":2690},
{"t":230,"th0":540,"th1":500,"th2":670,"th3":905,"sum":2650},
{"t":234,"th0":585,"th1":480,"th2":625,"th3":970,"sum":2700},
{"t":238,"th0":525,"th1":525,"th2":700,"th3":1030,"sum":2610},
{"t":242,"th0":550,"th1":495,"th2":640,"th3":935,"sum":2680},
{"t":246,"th0":515,"th1":460,"th2":600,"th3":985,"sum":2630},
{"t":250,"th0":575,"th1":515,"th2":690,"th3":950,"sum":2720},
{"t":254,"th0":540,"th1":490,"th2":645,"th3":1020,"sum":2660},
{"t":258,"th0":560,"th1":530,"th2":605,"th3":910,"sum":2610},
{"t":262,"th0":520,"th1":470,"th2":680,"th3":985,"sum":2700},
{"t":266,"th0":580,"th1":505,"th2":630,"th3":945,"sum":2650},
{"t":270,"th0":545,"th1":480,"th2":705,"th3":1030,"sum":2720},
{"t":274,"th0":510,"th1":520,"th2":640,"th3":930,"sum":2580},
{"t":278,"th0":565,"th1":495,"th2":600,"th3":990,"sum":2660},
{"t":282,"th0":535,"th1":465,"th2":675,"th3":915,"sum":2700},
{"t":286,"th0":590,"th1":515,"th2":625,"th3":1000,"sum":2640},
{"t":290,"th0":545,"th1":480,"th2":700,"th3":960,"sum":2690},
{"t":294,"th0":505,"th1":530,"th2":645,"th3":1040,"sum":2620},
{"t":298,"th0":565,"th1":495,"th2":605,"th3":935,"sum":2700},
{"t":302,"th0":530,"th1":470,"th2":680,"th3":975,"sum":2660},
{"t":306,"th0":575,"th1":520,"th2":635,"th3":910,"sum":2720},
{"t":310,"th0":540,"th1":490,"th2":605,"th3":1015,"sum":2640},
{"t":314,"th0":590,"th1":515,"th2":690,"th3":955,"sum":2760},
{"t":318,"th0":550,"th1":475,"th2":650,"th3":990,"sum":2780},
{"t":322,"th0":520,"th1":530,"th2":615,"th3":930,"sum":2700},
{"t":326,"th0":580,"th1":500,"th2":700,"th3":1030,"sum":2660},
{"t":330,"th0":535,"th1":525,"th2":640,"th3":945,"sum":2720},
{"t":334,"th0":570,"th1":470,"th2":600,"th3":985,"sum":2640},
{"t":338,"th0":520,"th1":510,"th2":680,"th3":910,"sum":2690},
{"t":342,"th0":560,"th1":485,"th2":635,"th3":1005,"sum":2620},
{"t":346,"th0":530,"th1":530,"th2":700,"th3":960,"sum":2700},
{"t":350,"th0":585,"th1":490,"th2":615,"th3":1040,"sum":2650},
{"t":354,"th0":540,"th1":460,"th2":665,"th3":935,"sum":2600},
{"t":358,"th0":505,"th1":515,"th2":620,"th3":985,"sum":2680},
{"t":362,"th0":565,"th1":490,"th2":690,"th3":920,"sum":2640},
{"t":366,"th0":530,"th1":525,"th2":645,"th3":1010,"sum":2720},
{"t":370,"th0":580,"th1":475,"th2":605,"th3":950,"sum":2600},
{"t":374,"th0":545,"th1":510,"th2":680,"th3":900,"sum":2680},
{"t":378,"th0":510,"th1":530,"th2":630,"th3":990,"sum":2620},
{"t":382,"th0":565,"th1":485,"th2":700,"th3":945,"sum":2700},
{"t":386,"th0":530,"th1":505,"th2":645,"th3":1025,"sum":2640},
{"t":390,"th0":555,"th1":470,"th2":600,"th3":930,"sum":2580},
{"t":394,"th0":505,"th1":525,"th2":670,"th3":980,"sum":2690},
{"t":398,"th0":565,"th1":490,"th2":620,"th3":945,"sum":2620},
{"t":402,"th0":535,"th1":515,"th2":660,"th3":920,"sum":2650}
]},
"vconcat":[
{"width":604,"height":89.5,
 "layer":[
  {"mark":{"type":"line","color":"#ff0000","strokeWidth":0.9,"clip":true},
   "encoding":{
    "x":{"field":"t","type":"quantitative","scale":{"domain":[-522,426],"nice":false,"zero":false},"axis":{"orient":"bottom","values":[-500,-400,-300,-200,-100,0,100,200,300,400],"labels":false,"title":null,"tickSize":{"condition":{"test":"datum.value % 200 === 0","value":-6},"value":-3}}},
    "y":{"field":"th0","type":"quantitative","scale":{"domain":[452.5,648],"nice":false,"zero":false},"axis":{"orient":"left","values":[460,470,480,490,500,510,520,530,540,550,560,570,580,590,600,610,620,630,640],"format":"d","labelExpr":"datum.value % 50 === 0 ? datum.label : ''","labelPadding":19,"title":null,"tickSize":{"condition":{"test":"datum.value % 50 === 0","value":-7},"value":-3.5}}}}},
  {"mark":{"type":"point","opacity":0,"clip":true},
   "encoding":{
    "x":{"field":"t","type":"quantitative","scale":{"domain":[-522,426],"nice":false,"zero":false},"axis":{"orient":"top","values":[-500,-400,-300,-200,-100,0,100,200,300,400],"labels":false,"title":null,"tickSize":{"condition":{"test":"datum.value % 200 === 0","value":-6},"value":-3}}},
    "y":{"field":"th0","type":"quantitative","scale":{"domain":[452.5,648],"nice":false,"zero":false},"axis":{"orient":"right","values":[460,470,480,490,500,510,520,530,540,550,560,570,580,590,600,610,620,630,640],"labels":false,"title":"TH0","titleAngle":0,"titleX":-1,"titleY":14.5,"titleAlign":"right","titleBaseline":"alphabetic","titleFontSize":16,"tickSize":{"condition":{"test":"datum.value % 50 === 0","value":-7},"value":-3.5}}}}}
 ],
 "resolve":{"axis":{"x":"independent","y":"independent"}}},
{"width":604,"height":89.5,
 "layer":[
  {"mark":{"type":"line","color":"#00ff00","strokeWidth":0.9,"clip":true},
   "encoding":{
    "x":{"field":"t","type":"quantitative","scale":{"domain":[-522,426],"nice":false,"zero":false},"axis":{"orient":"bottom","values":[-500,-400,-300,-200,-100,0,100,200,300,400],"labels":false,"title":null,"tickSize":{"condition":{"test":"datum.value % 200 === 0","value":-6},"value":-3}}},
    "y":{"field":"th1","type":"quantitative","scale":{"domain":[404,600],"nice":false,"zero":false},"axis":{"orient":"left","values":[410,420,430,440,450,460,470,480,490,500,510,520,530,540,550,560,570,580,590,600],"format":"d","labelExpr":"datum.value % 50 === 0 ? datum.label : ''","labelPadding":19,"title":null,"tickSize":{"condition":{"test":"datum.value % 50 === 0","value":-7},"value":-3.5}}}}},
  {"mark":{"type":"point","opacity":0,"clip":true},
   "encoding":{
    "x":{"field":"t","type":"quantitative","scale":{"domain":[-522,426],"nice":false,"zero":false},"axis":{"orient":"top","values":[-500,-400,-300,-200,-100,0,100,200,300,400],"labels":false,"title":null,"tickSize":{"condition":{"test":"datum.value % 200 === 0","value":-6},"value":-3}}},
    "y":{"field":"th1","type":"quantitative","scale":{"domain":[404,600],"nice":false,"zero":false},"axis":{"orient":"right","values":[410,420,430,440,450,460,470,480,490,500,510,520,530,540,550,560,570,580,590,600],"labels":false,"title":"TH1","titleAngle":0,"titleX":-1,"titleY":14.5,"titleAlign":"right","titleBaseline":"alphabetic","titleFontSize":16,"tickSize":{"condition":{"test":"datum.value % 50 === 0","value":-7},"value":-3.5}}}}}
 ],
 "resolve":{"axis":{"x":"independent","y":"independent"}}},
{"width":604,"height":89.5,
 "layer":[
  {"mark":{"type":"line","color":"#0000ff","strokeWidth":0.9,"clip":true},
   "encoding":{
    "x":{"field":"t","type":"quantitative","scale":{"domain":[-522,426],"nice":false,"zero":false},"axis":{"orient":"bottom","values":[-500,-400,-300,-200,-100,0,100,200,300,400],"labels":false,"title":null,"tickSize":{"condition":{"test":"datum.value % 200 === 0","value":-6},"value":-3}}},
    "y":{"field":"th2","type":"quantitative","scale":{"domain":[557,755],"nice":false,"zero":false},"axis":{"orient":"left","values":[560,570,580,590,600,610,620,630,640,650,660,670,680,690,700,710,720,730,740,750],"format":"d","labelExpr":"datum.value % 50 === 0 ? datum.label : ''","labelPadding":19,"title":"Counts/sec","titleX":-66,"titleY":44.75,"titleAngle":-90,"titleAlign":"center","titleBaseline":"middle","tickSize":{"condition":{"test":"datum.value % 50 === 0","value":-7},"value":-3.5}}}}},
  {"mark":{"type":"point","opacity":0,"clip":true},
   "encoding":{
    "x":{"field":"t","type":"quantitative","scale":{"domain":[-522,426],"nice":false,"zero":false},"axis":{"orient":"top","values":[-500,-400,-300,-200,-100,0,100,200,300,400],"labels":false,"title":null,"tickSize":{"condition":{"test":"datum.value % 200 === 0","value":-6},"value":-3}}},
    "y":{"field":"th2","type":"quantitative","scale":{"domain":[557,755],"nice":false,"zero":false},"axis":{"orient":"right","values":[560,570,580,590,600,610,620,630,640,650,660,670,680,690,700,710,720,730,740,750],"labels":false,"title":"TH2","titleAngle":0,"titleX":-1,"titleY":14.5,"titleAlign":"right","titleBaseline":"alphabetic","titleFontSize":16,"tickSize":{"condition":{"test":"datum.value % 50 === 0","value":-7},"value":-3.5}}}}}
 ],
 "resolve":{"axis":{"x":"independent","y":"independent"}}},
{"width":604,"height":89.5,
 "layer":[
  {"mark":{"type":"line","color":"#00ffff","strokeWidth":0.9,"clip":true},
   "encoding":{
    "x":{"field":"t","type":"quantitative","scale":{"domain":[-522,426],"nice":false,"zero":false},"axis":{"orient":"bottom","values":[-500,-400,-300,-200,-100,0,100,200,300,400],"labels":false,"title":null,"tickSize":{"condition":{"test":"datum.value % 200 === 0","value":-6},"value":-3}}},
    "y":{"field":"th3","type":"quantitative","scale":{"domain":[859,1060],"nice":false,"zero":false},"axis":{"orient":"left","values":[860,870,880,890,900,910,920,930,940,950,960,970,980,990,1000,1010,1020,1030,1040,1050,1060],"format":"d","labelExpr":"datum.value % 50 === 0 ? datum.label : ''","labelPadding":19,"title":null,"tickSize":{"condition":{"test":"datum.value % 50 === 0","value":-7},"value":-3.5}}}}},
  {"mark":{"type":"point","opacity":0,"clip":true},
   "encoding":{
    "x":{"field":"t","type":"quantitative","scale":{"domain":[-522,426],"nice":false,"zero":false},"axis":{"orient":"top","values":[-500,-400,-300,-200,-100,0,100,200,300,400],"labels":false,"title":null,"tickSize":{"condition":{"test":"datum.value % 200 === 0","value":-6},"value":-3}}},
    "y":{"field":"th3","type":"quantitative","scale":{"domain":[859,1060],"nice":false,"zero":false},"axis":{"orient":"right","values":[860,870,880,890,900,910,920,930,940,950,960,970,980,990,1000,1010,1020,1030,1040,1050,1060],"labels":false,"title":"TH3","titleAngle":0,"titleX":-1,"titleY":14.5,"titleAlign":"right","titleBaseline":"alphabetic","titleFontSize":16,"tickSize":{"condition":{"test":"datum.value % 50 === 0","value":-7},"value":-3.5}}}}}
 ],
 "resolve":{"axis":{"x":"independent","y":"independent"}}},
{"width":604,"height":89.5,
 "layer":[
  {"mark":{"type":"line","color":"#ff00ff","strokeWidth":0.9,"clip":true},
   "encoding":{
    "x":{"field":"t","type":"quantitative","scale":{"domain":[-522,426],"nice":false,"zero":false},"axis":{"orient":"bottom","values":[-500,-400,-300,-200,-100,0,100,200,300,400],"format":"d","labelExpr":"datum.value % 200 === 0 ? datum.label : ''","labelPadding":12,"title":"Time [sec] 0 = 2013/04/08 21:51:39","titleY":34,"titleBaseline":"alphabetic","tickSize":{"condition":{"test":"datum.value % 200 === 0","value":-6},"value":-3}}},
    "y":{"field":"sum","type":"quantitative","scale":{"domain":[2471,2940],"nice":false,"zero":false},"axis":{"orient":"left","values":[2480,2500,2520,2540,2560,2580,2600,2620,2640,2660,2680,2700,2720,2740,2760,2780,2800,2820,2840,2860,2880,2900,2920,2940],"format":"d","labelExpr":"datum.value % 100 === 0 ? datum.label : ''","labelPadding":19,"title":null,"tickSize":{"condition":{"test":"datum.value % 100 === 0","value":-7},"value":-3.5}}}}},
  {"mark":{"type":"point","opacity":0,"clip":true},
   "encoding":{
    "x":{"field":"t","type":"quantitative","scale":{"domain":[-522,426],"nice":false,"zero":false},"axis":{"orient":"top","values":[-500,-400,-300,-200,-100,0,100,200,300,400],"labels":false,"title":null,"tickSize":{"condition":{"test":"datum.value % 200 === 0","value":-6},"value":-3}}},
    "y":{"field":"sum","type":"quantitative","scale":{"domain":[2471,2940],"nice":false,"zero":false},"axis":{"orient":"right","values":[2480,2500,2520,2540,2560,2580,2600,2620,2640,2660,2680,2700,2720,2740,2760,2780,2800,2820,2840,2860,2880,2900,2920,2940],"labels":false,"title":"TH0123","titleAngle":0,"titleX":-1,"titleY":14.5,"titleAlign":"right","titleBaseline":"alphabetic","titleFontSize":16,"tickSize":{"condition":{"test":"datum.value % 100 === 0","value":-7},"value":-3.5}}}}}
 ],
 "resolve":{"axis":{"x":"independent","y":"independent"}}}
]
}
